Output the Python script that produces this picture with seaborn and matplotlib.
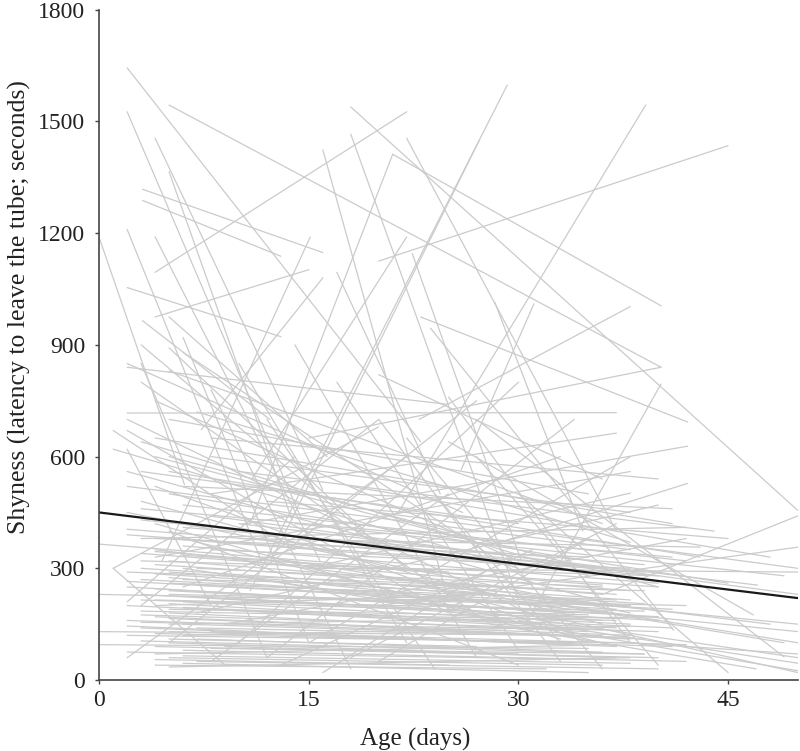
import pandas as pd
import seaborn as sns
import matplotlib.pyplot as plt

# each entry: (age at first test, shyness, age at last test, shyness) per bird
upper = [
    (2.0, 1644, 23.0, 640), (2.0, 1526, 14.5, 430), (4.0, 1455, 16.0, 510),
    (5.0, 1365, 13.8, 430), (5.0, 1544, 40.2, 840), (18.0, 1539, 50.0, 455),
    (4.0, 1095, 22.0, 1526), (16.0, 1424, 25.0, 210), (18.0, 1466, 30.0, 215),
    (10.8, 420, 21.0, 1412), (21.0, 1412, 40.2, 1005), (22.0, 1455, 37.0, 400),
    (10.8, 240, 29.2, 1598), (12.3, 320, 27.2, 1450), (20.0, 1125, 45.0, 1435),
    (21.4, 450, 39.1, 1544), (4.5, 320, 15.1, 1190), (3.1, 1318, 16.0, 1148),
    (3.1, 1288, 13.0, 1138), (2.0, 1210, 11.6, 320), (4.0, 1190, 15.8, 320),
    (0.0, 1188, 6.1, 525), (2.0, 1054, 13.0, 922), (4.0, 975, 15.0, 1102),
    (3.1, 965, 12.2, 700), (5.0, 975, 16.3, 600), (17.0, 1095, 24.4, 500),
    (10.9, 538, 22.0, 1190), (7.3, 672, 16.0, 1080), (22.9, 700, 38.0, 1003),
    (25.9, 565, 31.1, 1010), (22.4, 1145, 30.2, 320), (28.3, 1015, 34.6, 400),
    (15.0, 650, 40.2, 840), (30.5, 150, 40.2, 795), (23.0, 975, 42.1, 693),
    (10.2, 418, 42.1, 628), (28.5, 368, 42.1, 528), (2.0, 717, 37.0, 718),
    (8.0, 500, 37.0, 663), (15.0, 300, 38.0, 502), (10.0, 380, 43.0, 357),
    (36.0, 230, 50.0, 441), (20.0, 200, 50.0, 357), (10.0, 420, 47.1, 255),
    (15.0, 300, 50.0, 290), (23.7, 945, 41.1, 134), (2.0, 840, 25.0, 740),
    (1.0, 670, 14.0, 350), (5.0, 892, 19.0, 400), (20.0, 820, 36.0, 540),
    (27.0, 700, 49.0, 62), (25.0, 640, 46.8, 175),
]

low_flat = [
    (2, 120, 38, 100), (3, 140, 37, 90), (5, 60, 36, 40), (4, 90, 40, 60),
    (5, 180, 35, 130), (6, 210, 38, 150), (3, 230, 36, 160), (2, 250, 34, 180),
    (5, 100, 30, 70), (6, 150, 33, 120), (4, 170, 39, 110), (2, 200, 37, 140),
    (5, 240, 40, 170), (3, 270, 38, 200), (6, 80, 42, 50), (5, 130, 41, 90),
    (7, 110, 36, 75), (4, 55, 25, 40), (6, 45, 35, 20), (8, 190, 36, 135),
    (5, 290, 35, 210), (4, 310, 37, 230), (3, 340, 38, 240), (6, 360, 40, 260),
    (5, 205, 32, 150), (2, 160, 30, 125), (0, 130, 36, 120), (0, 95, 35, 85),
    (0, 365, 25, 290), (0, 230, 38, 200), (5, 260, 37, 215), (6, 120, 38, 145),
    (4, 70, 37, 95), (5, 35, 38, 60), (7, 50, 40, 30), (9, 90, 37, 60),
    (3, 185, 37, 160), (4, 215, 39, 185), (5, 150, 40, 170),
]

low_more = [
    (2, 75, 36, 55), (3, 105, 39, 70), (4, 125, 34, 100), (5, 165, 38, 120),
    (6, 195, 41, 140), (3, 215, 35, 175), (2, 265, 37, 190), (4, 285, 39, 205),
    (5, 320, 36, 230), (6, 335, 40, 250), (7, 140, 38, 115), (8, 85, 39, 70),
    (2, 145, 33, 95), (3, 175, 40, 130), (4, 245, 36, 180), (5, 275, 33, 195),
    (6, 225, 37, 165), (7, 255, 41, 190), (3, 300, 38, 215), (4, 345, 36, 255),
    (5, 380, 40, 280), (2, 405, 37, 300), (6, 410, 39, 310), (3, 460, 41, 330),
    (5, 110, 27, 90), (4, 40, 32, 30), (6, 65, 38, 45), (8, 130, 42, 95),
    (3, 155, 36, 135), (5, 190, 34, 170), (9, 220, 40, 160), (10, 160, 38, 110),
    (2, 290, 30, 250), (4, 200, 28, 230), (7, 300, 36, 250), (5, 230, 42, 200),
    (3, 320, 40, 280), (6, 270, 39, 240), (8, 350, 38, 300), (4, 380, 35, 330),
]

mid = [
    (2, 450, 38, 180), (3, 480, 36, 150), (4, 520, 35, 100), (2, 560, 37, 200),
    (5, 600, 40, 250), (3, 640, 35, 280), (2, 700, 34, 120), (4, 420, 33, 110),
    (6, 380, 37, 90), (5, 400, 30, 40), (2, 390, 39, 290), (3, 430, 36, 300),
    (1, 620, 30, 300), (2, 670, 25, 180), (4, 750, 30, 320), (3, 800, 28, 150),
    (5, 830, 36, 420), (6, 880, 31, 260), (2, 850, 26, 450), (3, 900, 22, 300),
    (7, 720, 38, 370), (4, 650, 41, 420), (5, 560, 43, 330), (8, 600, 38, 450),
    (6, 470, 42, 320), (5, 500, 45, 260), (4, 350, 48, 150), (6, 300, 50, 60),
    (10, 280, 50, 25), (12, 330, 50, 100), (15, 260, 50, 130), (8, 440, 50, 230),
    (18, 520, 48, 330), (20, 450, 50, 300), (3, 560, 30, 420), (2, 520, 38, 350),
    (5, 700, 35, 500), (4, 600, 26, 380), (8, 650, 40, 540), (10, 560, 44, 400),
    (6, 520, 41, 460), (12, 480, 45, 380), (14, 420, 49, 280), (3, 380, 42, 410),
]

rising = [
    (2, 60, 22, 600), (5, 100, 27, 750), (3, 200, 20, 700), (8, 50, 25, 500),
    (10, 100, 30, 800), (1, 300, 20, 680), (6, 250, 33, 600), (12, 60, 34, 700),
    (15, 100, 38, 600), (18, 60, 37, 420), (4, 330, 38, 560), (7, 180, 40, 470),
    (9, 150, 42, 380), (13, 40, 31, 350), (2, 210, 14, 600), (16, 20, 28, 300),
    (20, 50, 35, 380),
]

steep_down = [
    (3, 850, 12, 60), (6, 920, 15, 100), (8, 780, 18, 30), (10, 850, 22, 100),
    (12, 700, 24, 30), (14, 900, 27, 60), (17, 800, 30, 80), (20, 700, 33, 50),
    (22, 650, 36, 30), (25, 760, 38, 100), (27, 600, 40, 40), (30, 500, 45, 20),
    (1, 300, 9, 40), (2, 620, 8, 200), (24, 500, 33, 100),
]

right_low = [
    (25, 230, 50, 20), (30, 160, 50, 45), (33, 200, 49, 100), (20, 260, 50, 150),
    (38, 100, 50, 70), (28, 150, 47, 30),
]

# population-level fit
fit_age = [0, 50]
fit_shy = [450, 220]

rows = []
bird = 0
for group in [upper, low_flat, low_more, mid, rising, steep_down, right_low]:
    for x0, y0, x1, y1 in group:
        rows.append((bird, x0, y0))
        rows.append((bird, x1, y1))
        bird += 1
df = pd.DataFrame(rows, columns=["bird", "age", "shyness"])

sns.set_style("ticks")
plt.rcParams["font.family"] = ["Liberation Serif", "DejaVu Serif"]

fig, ax = plt.subplots(figsize=(8, 7.51), dpi=100)
fig.subplots_adjust(left=0.124, right=0.9975, bottom=0.0945, top=0.987)

sns.lineplot(data=df, x="age", y="shyness", units="bird", estimator=None,
             color="#cbcbcb", lw=0.9, ax=ax, legend=False)
sns.lineplot(x=fit_age, y=fit_shy, color="#1a1a1a", lw=1.6, ax=ax)

ax.set_xlim(0, 50)
ax.set_ylim(0, 1800)
ax.set_xticks([0, 15, 30, 45])
ax.set_yticks(range(0, 1801, 300))
sns.despine()
for s in ["left", "bottom"]:
    ax.spines[s].set_color("#444444")
    ax.spines[s].set_linewidth(1.2)
ax.tick_params(direction="out", length=3, width=1, color="#444444",
               labelsize=17, labelcolor="#222222")
ax.tick_params(axis="y", pad=7)
ax.tick_params(axis="x", pad=4)
ax.set_xlabel("Age (days)", fontsize=18, color="#222222")
ax.set_ylabel("Shyness (latency to leave the tube; seconds)", fontsize=18.5,
              color="#222222")
ax.xaxis.set_label_coords(0.452, -0.072)
ax.yaxis.set_label_coords(-0.098, 0.557)

fig.savefig("out.png", dpi=100)
